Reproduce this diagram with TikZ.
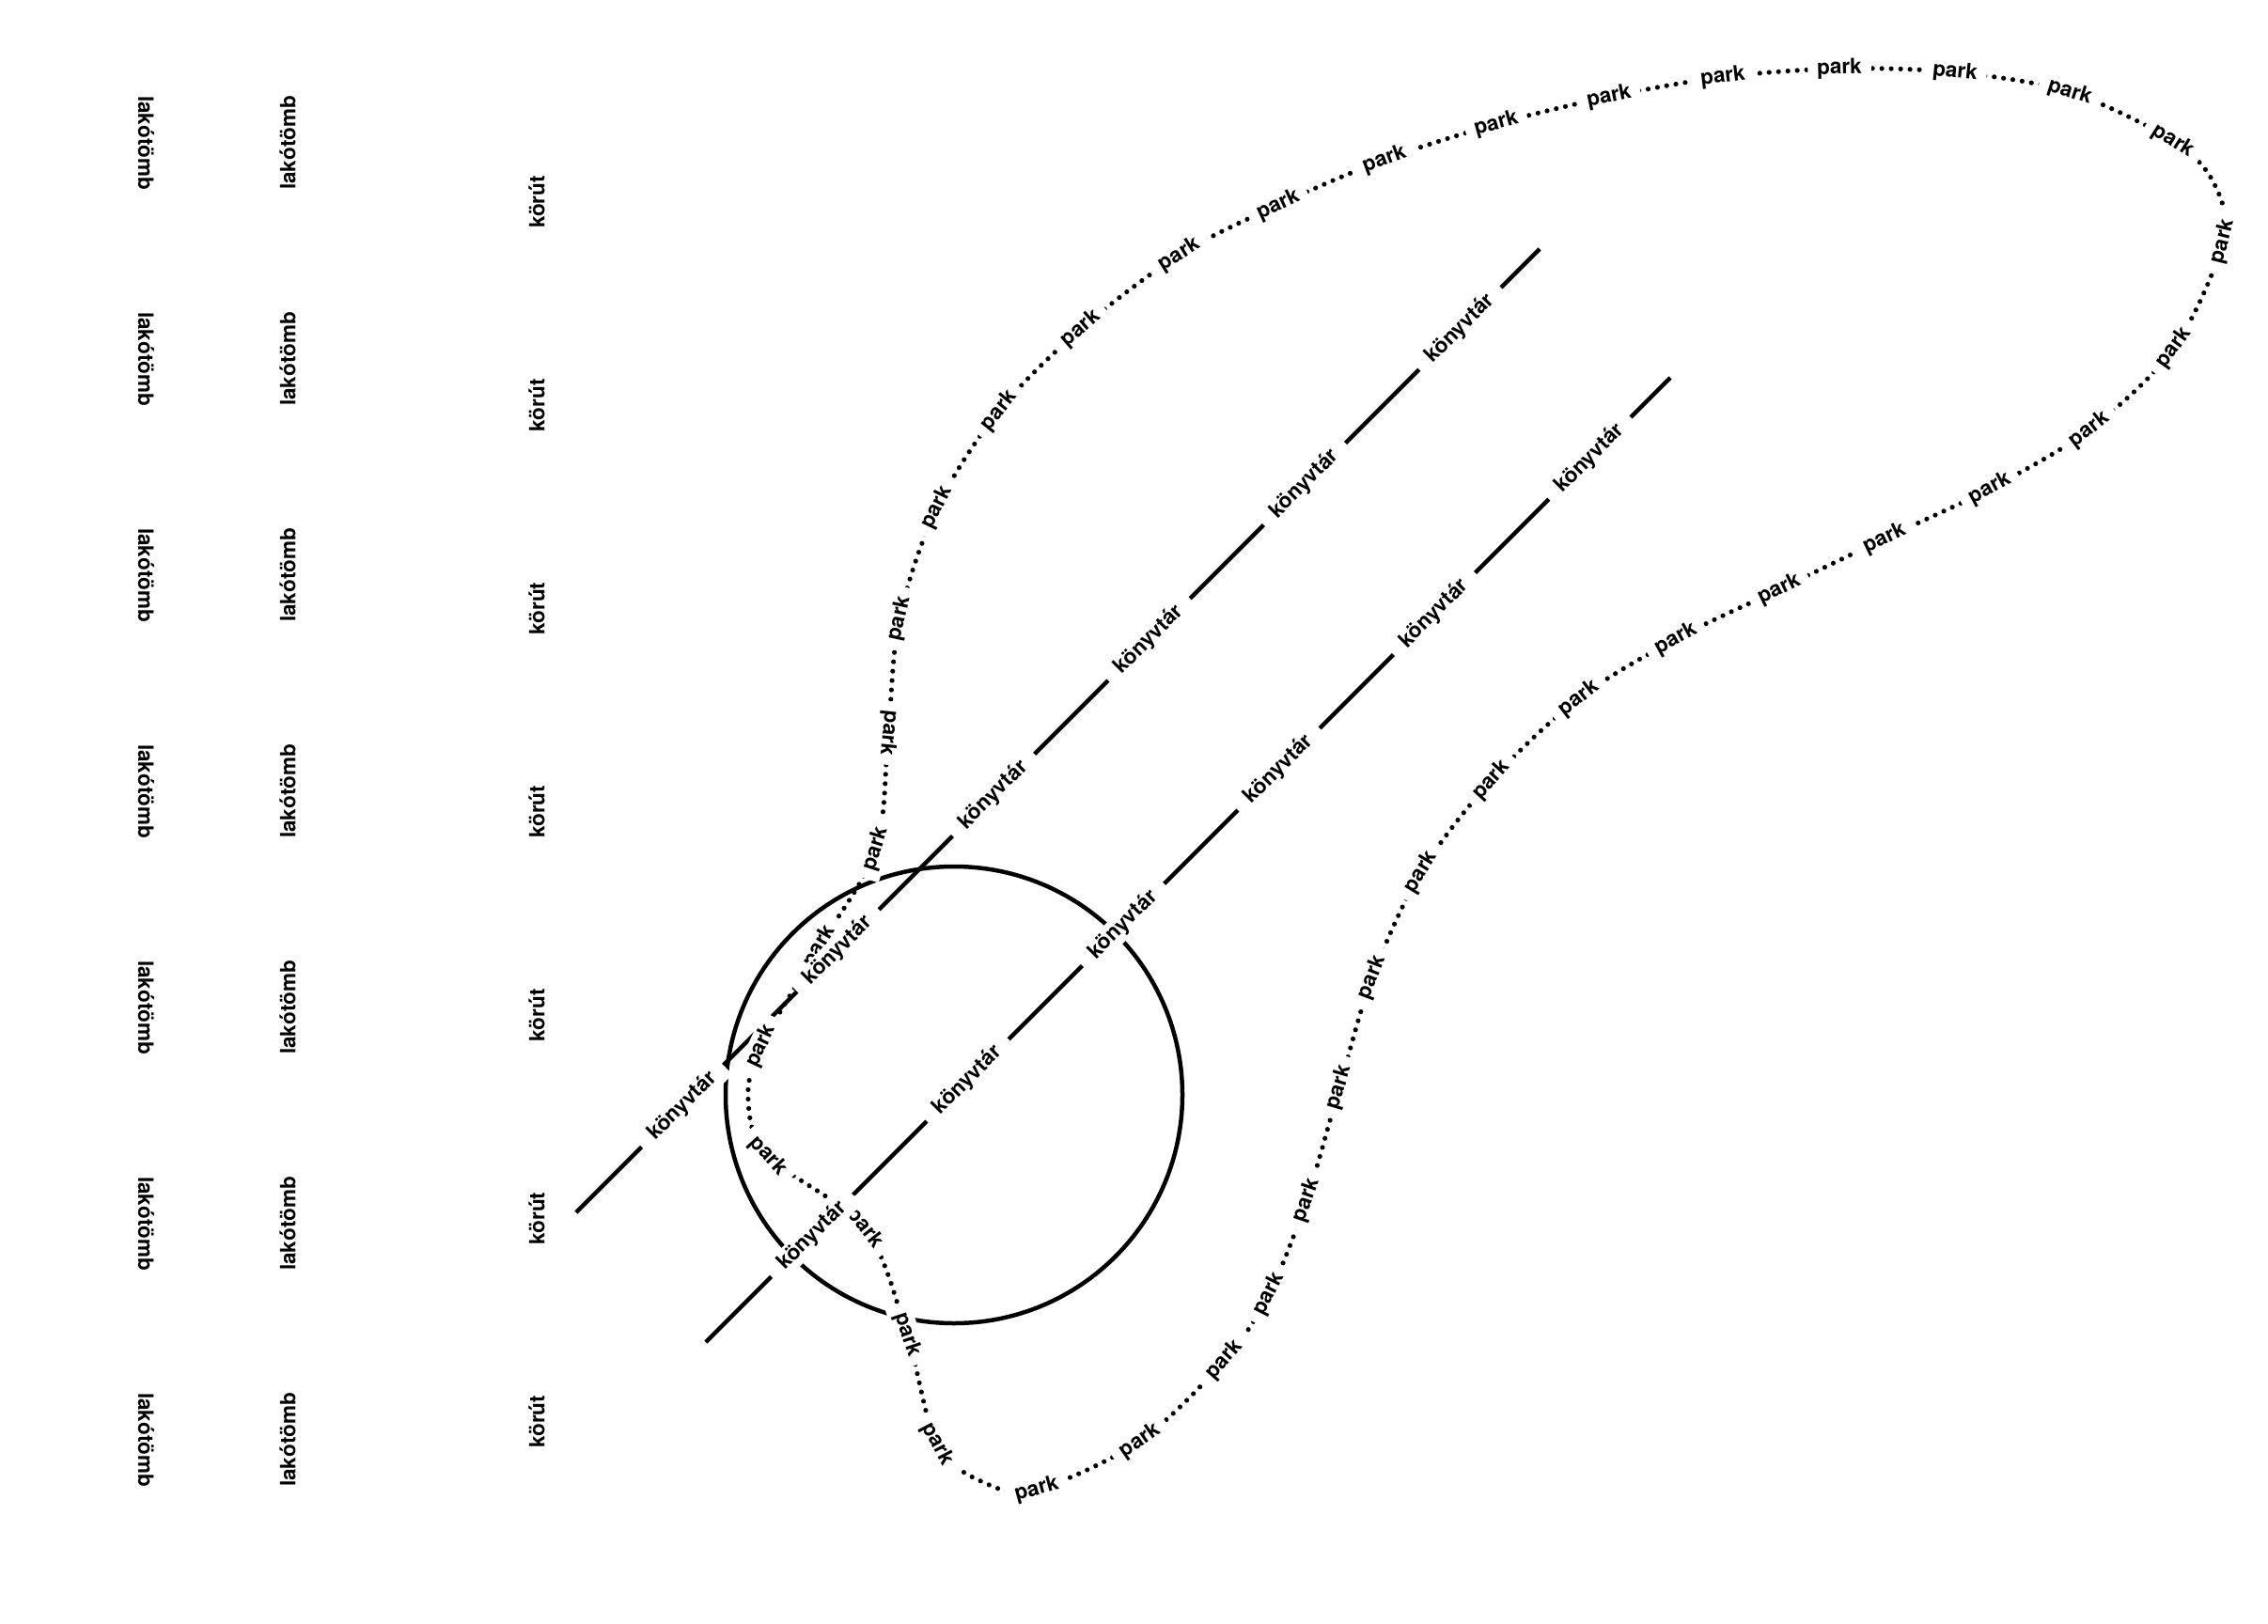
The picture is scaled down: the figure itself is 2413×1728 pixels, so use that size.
\documentclass[tikz,border=0pt]{standalone}
\usepackage{fontspec}
\setmainfont{TeX Gyre Heros}
\usetikzlibrary{calc}
\begin{document}
\begin{tikzpicture}[x=1pt,y=-1pt,
  lbl/.style={font=\fontsize{22.5}{27}\selectfont\bfseries, inner sep=0pt},
  parklbl/.style={lbl, fill=white, inner xsep=10pt, inner ysep=3pt},
  konyvlbl/.style={lbl, fill=white, inner xsep=15pt, inner ysep=3pt},
  road/.style={line width=4.5pt},
  parkline/.style={line width=5.2pt, line cap=round, dash pattern=on 0pt off 10pt},
]
\fill[white] (0,0) rectangle (2413,1728);
\useasboundingbox (0,0) rectangle (2413,1728);

% vertical labels
\foreach \k in {0,...,6}{
  \node[lbl, rotate=-90] (la\k) at (155.5, 152+230*\k) {lakótömb};
  \node[lbl, rotate=90] (lb\k) at (306, 152+230*\k) {lakótömb};
  \node[lbl, rotate=90] (kr\k) at (571, 215+216.3*\k) {körút};
}

% circle
\coordinate (plaza) at (1015,1165);
\draw[road] (plaza) circle[radius=243];

% straight lines
\coordinate (k1s) at (613,1290); \coordinate (k1e) at (1638,265);
\coordinate (k2s) at (751,1428); \coordinate (k2e) at (1777,402);
\draw[road] (k1s) -- (k1e);
\draw[road] (k2s) -- (k2e);

% park curve
\foreach \x/\y [count=\i] in {872/1007,932/903,945/780,957/658,997/540,1063/437,1150/350,1255/271,1360/218,1473/170,1592/132,1712/103,1833/82,1957/73,2080/77,2202/98,2312/150,2356/196,2365/257,2313/370,2223/457,2117/520,2005/573,1893/627,1783/680,1680/743,1587/830,1512/928,1460/1040,1425/1157,1390/1277,1350/1377,1303/1447,1213/1533,1103/1585,1048/1578,997/1537,965/1420,920/1307,817/1230,796/1170,810/1113}{
  \coordinate (p\i) at (\x,\y);
}
\draw[parkline] plot[smooth cycle, tension=0.55] coordinates {(p1) (p2) (p3) (p4) (p5) (p6) (p7) (p8) (p9) (p10) (p11) (p12) (p13) (p14) (p15) (p16) (p17) (p18) (p19) (p20) (p21) (p22) (p23) (p24) (p25) (p26) (p27) (p28) (p29) (p30) (p31) (p32) (p33) (p34) (p35) (p36) (p37) (p38) (p39) (p40) (p41) (p42)};

\foreach \i/\f in {1/0,2/0,3/1,4/0,5/0,6/0,7/0,8/0,9/0,10/0,11/0,12/0,13/0,14/0,15/0,16/0,17/0,19/0,20/0,21/0,22/0,23/0,24/0,25/0,26/0,27/0,28/0,29/0,30/0,31/0,32/0,33/0,34/0,35/0,37/0,38/0,39/0,40/0,42/0}{
  \pgfmathtruncatemacro\iPrev{mod(\i+40,42)+1}
  \pgfmathtruncatemacro\iNext{mod(\i,42)+1}
  \pgfmathanglebetweenpoints{\pgfpointanchor{p\iPrev}{center}}{\pgfpointanchor{p\iNext}{center}}
  \pgfmathsetmacro\ang{\pgfmathresult}
  \pgfmathsetmacro\rotA{(\ang>90 && \ang<=270) ? \ang-180 : \ang}
  \pgfmathsetmacro\rotB{(\f==1) ? \rotA+180 : \rotA}
  \node[parklbl, rotate=\rotB] (pk\i) at (p\i) {park};
}

% library labels on the straight lines
\foreach \s [count=\j] in {160,394,628,862,1096,1330}{
  \node[konyvlbl, rotate=45] (ka\j) at ($(k1s)!\s pt!(k1e)$) {könyvtár};
  \node[konyvlbl, rotate=45] (kb\j) at ($(k2s)!\s pt!(k2e)$) {könyvtár};
}
\end{tikzpicture}
\end{document}
